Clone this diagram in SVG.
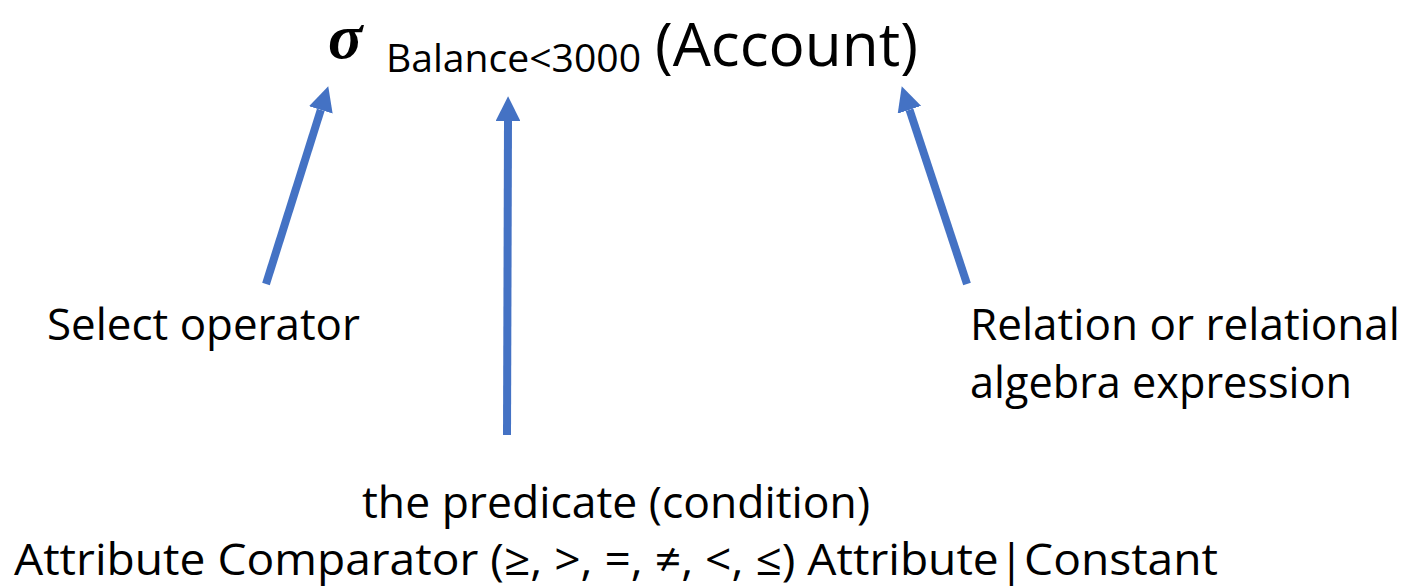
<svg xmlns="http://www.w3.org/2000/svg" width="1404" height="586" viewBox="0 0 1404 586">
<style>
.t{font-family:"Open Sans","Noto Sans",sans-serif;fill:#000}
.lbl{font-size:44px}
.arr{stroke:#4472C4;stroke-width:8;fill:none;marker-end:url(#head)}
</style>
<defs>
<marker id="head" viewBox="0 0 10 10" refX="0" refY="5" markerWidth="3.1" markerHeight="3.1" markerUnits="strokeWidth" orient="auto">
<path d="M0,0 L10,5 L0,10 z" fill="#4472C4"/>
</marker>
</defs>
<rect width="1404" height="586" fill="#fff"/>
<g id="expression">
<text x="328" y="58" font-family="Liberation Serif,serif" font-weight="bold" font-style="italic" font-size="64" fill="#000">σ</text>
<text class="t" x="386" y="72" font-size="38" textLength="255" lengthAdjust="spacingAndGlyphs">Balance&lt;3000</text>
<text class="t" x="655" y="66" font-size="61" textLength="263" lengthAdjust="spacingAndGlyphs">(Account)</text>
</g>
<g id="connectors">
<line class="arr" x1="266" y1="284" x2="320.8" y2="109.9"/>
<line class="arr" x1="507" y1="435" x2="508" y2="121"/>
<line class="arr" x1="967" y1="284" x2="909.5" y2="109.8"/>
</g>
<g id="select-operator">
<text class="t lbl" x="47" y="340" textLength="313" lengthAdjust="spacingAndGlyphs">Select operator</text>
</g>
<g id="relation">
<text class="t lbl" x="970" y="340" textLength="430" lengthAdjust="spacingAndGlyphs">Relation or relational</text>
<text class="t lbl" x="970" y="398" textLength="382" lengthAdjust="spacingAndGlyphs">algebra expression</text>
</g>
<g id="predicate">
<text class="t lbl" x="362" y="518" textLength="508" lengthAdjust="spacingAndGlyphs">the predicate (condition)</text>
<text class="t lbl" x="14" y="575" textLength="1204" lengthAdjust="spacingAndGlyphs">Attribute Comparator (≥, &gt;, =, ≠, &lt;, ≤) Attribute|Constant</text>
</g>
</svg>
